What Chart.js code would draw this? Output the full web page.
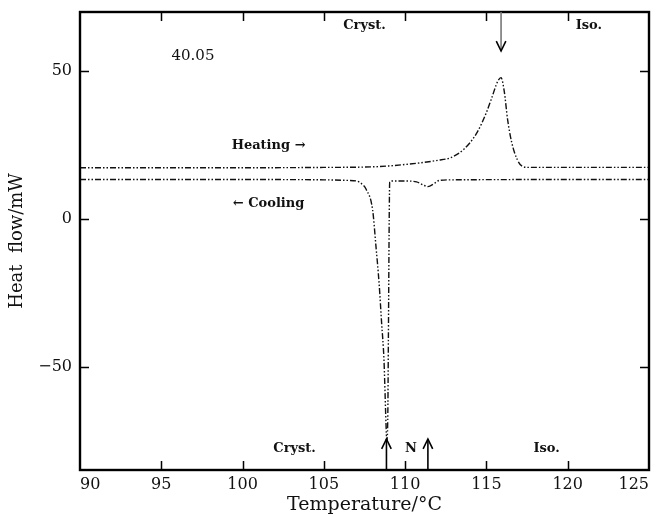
<!DOCTYPE html>
<html>
<head>
<meta charset="utf-8">
<script src="https://cdn.jsdelivr.net/npm/chart.js@4/dist/chart.umd.min.js"></script>
<style>
  html, body { margin: 0; padding: 0; background: #fff; }
  #wrap { width: 656px; height: 517px; }
</style>
</head>
<body>
<div id="wrap"><canvas id="myChart" width="656" height="517"></canvas></div>
<script>
// heating run
const heatT = [90, 95, 100, 105, 108, 109, 110, 111, 112, 112.8, 113.6, 114.4, 115.0, 115.3, 115.7, 115.9, 116.1, 116.3, 116.55, 116.9, 117.2, 117.6, 120, 125];
const heatQ = [17.3, 17.3, 17.3, 17.4, 17.6, 17.9, 18.4, 19.0, 19.8, 20.7, 23.5, 29, 36, 40.5, 46.6, 47.8, 43, 33.7, 26, 20, 17.8, 17.4, 17.4, 17.4];

// cooling run
const coolT = [90, 95, 100, 105, 106.5, 107.0, 107.3, 107.6, 108.0, 108.2, 108.4, 108.55, 108.7, 108.77, 108.82, 108.87, 108.93, 108.97, 109.02, 109.05, 109.2, 110, 110.7, 111.1, 111.4, 111.8, 112.1, 113, 120, 125];
const coolQ = [13.3, 13.3, 13.3, 13.2, 13.0, 12.8, 12, 10, 3, -9, -22, -35, -48, -60, -69, -75, -68, -40, 0, 12.4, 12.8, 12.8, 12.5, 11.5, 10.9, 12, 13, 13.2, 13.3, 13.3];

const xTicks = [90, 95, 100, 105, 110, 115, 120, 125];
const yTicks = [-50, 0, 50];

const toPoints = (xs, ys) => xs.map((v, i) => ({x: v, y: ys[i]}));

const serif = "'DejaVu Serif', 'Liberation Serif', serif";

function arrow(ctx, x0, y0, x1, y1, color) {
    const ang = Math.atan2(y1 - y0, x1 - x0);
    const h = 11;
    ctx.strokeStyle = color;
    ctx.lineWidth = 1.6;
    ctx.beginPath();
    ctx.moveTo(x0, y0);
    ctx.lineTo(x1, y1);
    ctx.stroke();
    ctx.strokeStyle = '#000';
    ctx.beginPath();
    ctx.moveTo(x1 - h * Math.cos(ang - 0.45), y1 - h * Math.sin(ang - 0.45));
    ctx.lineTo(x1, y1);
    ctx.lineTo(x1 - h * Math.cos(ang + 0.45), y1 - h * Math.sin(ang + 0.45));
    ctx.stroke();
}

const frame = {
    id: 'frame',
    afterDatasetsDraw(chart) {
        const {ctx, chartArea: a, scales: {x, y}} = chart;
        ctx.save();
        // inward ticks on all four sides
        ctx.strokeStyle = '#000';
        ctx.lineWidth = 1.5;
        x.ticks.forEach(t => {
            if (t.value <= x.min || t.value >= x.max) return;
            const px = Math.round(x.getPixelForValue(t.value)) + 0.5;
            ctx.beginPath();
            ctx.moveTo(px, a.bottom); ctx.lineTo(px, a.bottom - 9);
            ctx.moveTo(px, a.top); ctx.lineTo(px, a.top + 9);
            ctx.stroke();
        });
        y.ticks.forEach(t => {
            const py = Math.round(y.getPixelForValue(t.value)) + 0.5;
            ctx.beginPath();
            ctx.moveTo(a.left, py); ctx.lineTo(a.left + 9, py);
            ctx.moveTo(a.right, py); ctx.lineTo(a.right - 9, py);
            ctx.stroke();
        });
        ctx.lineWidth = 2.4;
        ctx.strokeRect(a.left, a.top, a.right - a.left, a.bottom - a.top);

        // phase labels and notes
        ctx.fillStyle = '#111';
        ctx.textAlign = 'center';
        ctx.textBaseline = 'middle';
        const label = (txt, vx, vy, font) => {
            ctx.font = font;
            ctx.fillText(txt, x.getPixelForValue(vx), y.getPixelForValue(vy));
        };
        const bold = 'bold 13px ' + serif;
        label('40.05', 96.95, 55.1, '15px ' + serif);
        label('Cryst.', 107.5, 65.3, bold);
        label('Iso.', 121.3, 65.3, bold);
        label('Heating \u2192', 101.6, 24.8, bold);
        label('\u2190 Cooling', 101.6, 5.1, bold);
        label('Cryst.', 103.2, -77.9, bold);
        label('N', 110.35, -77.9, bold);
        label('Iso.', 118.7, -77.9, bold);

        // transition arrows
        arrow(ctx, x.getPixelForValue(115.9), a.top, x.getPixelForValue(115.9), y.getPixelForValue(56.8), '#777');
        arrow(ctx, x.getPixelForValue(108.85), a.bottom, x.getPixelForValue(108.85), y.getPixelForValue(-74.5), '#000');
        arrow(ctx, x.getPixelForValue(111.4), a.bottom, x.getPixelForValue(111.4), y.getPixelForValue(-74.5), '#000');
        ctx.restore();
    }
};

const lineStyle = {
    showLine: true,
    pointRadius: 0,
    borderColor: '#111',
    borderWidth: 1.4,
    borderDash: [6, 2, 1.5, 2, 1.5, 2],
    cubicInterpolationMode: 'monotone',
    fill: false
};

let ctx = document.getElementById('myChart').getContext('2d');
let myChart = new Chart(ctx, {
    type: 'scatter',
    data: {
        datasets: [
            Object.assign({label: 'Heating', data: toPoints(heatT, heatQ)}, lineStyle),
            Object.assign({label: 'Cooling', data: toPoints(coolT, coolQ)}, lineStyle)
        ]
    },
    options: {
        responsive: false,
        animation: false,
        layout: {padding: {left: 0, top: 12, right: 7, bottom: 0}},
        plugins: {
            legend: {display: false},
            tooltip: {enabled: false}
        },
        scales: {
            x: {
                type: 'linear',
                min: 90,
                max: 125,
                afterBuildTicks: s => { s.ticks = xTicks.map(v => ({value: v})); },
                afterFit: s => { s.height = 47; s.paddingLeft = 0; s.paddingRight = 0; },
                grid: {display: false, drawTicks: false},
                border: {display: false},
                ticks: {color: '#111', padding: 5, align: 'inner', font: {family: serif, size: 16}},
                title: {
                    display: true,
                    text: 'Temperature/\u00B0C',
                    color: '#111',
                    font: {family: serif, size: 19},
                    padding: {top: 0, bottom: 1}
                }
            },
            y: {
                type: 'linear',
                min: -85,
                max: 70,
                afterBuildTicks: s => { s.ticks = yTicks.map(v => ({value: v})); },
                afterFit: s => { s.width = 80; s.paddingTop = 0; s.paddingBottom = 0; },
                grid: {display: false, drawTicks: false},
                border: {display: false},
                ticks: {
                    color: '#111',
                    padding: 8,
                    font: {family: serif, size: 16},
                    callback: v => (v < 0 ? '\u2212' + Math.abs(v) : String(v))
                },
                title: {
                    display: true,
                    text: 'Heat  flow/mW',
                    color: '#111',
                    font: {family: serif, size: 18},
                    padding: {top: 7, bottom: 0}
                }
            }
        }
    },
    plugins: [frame]
});
</script>
</body>
</html>
